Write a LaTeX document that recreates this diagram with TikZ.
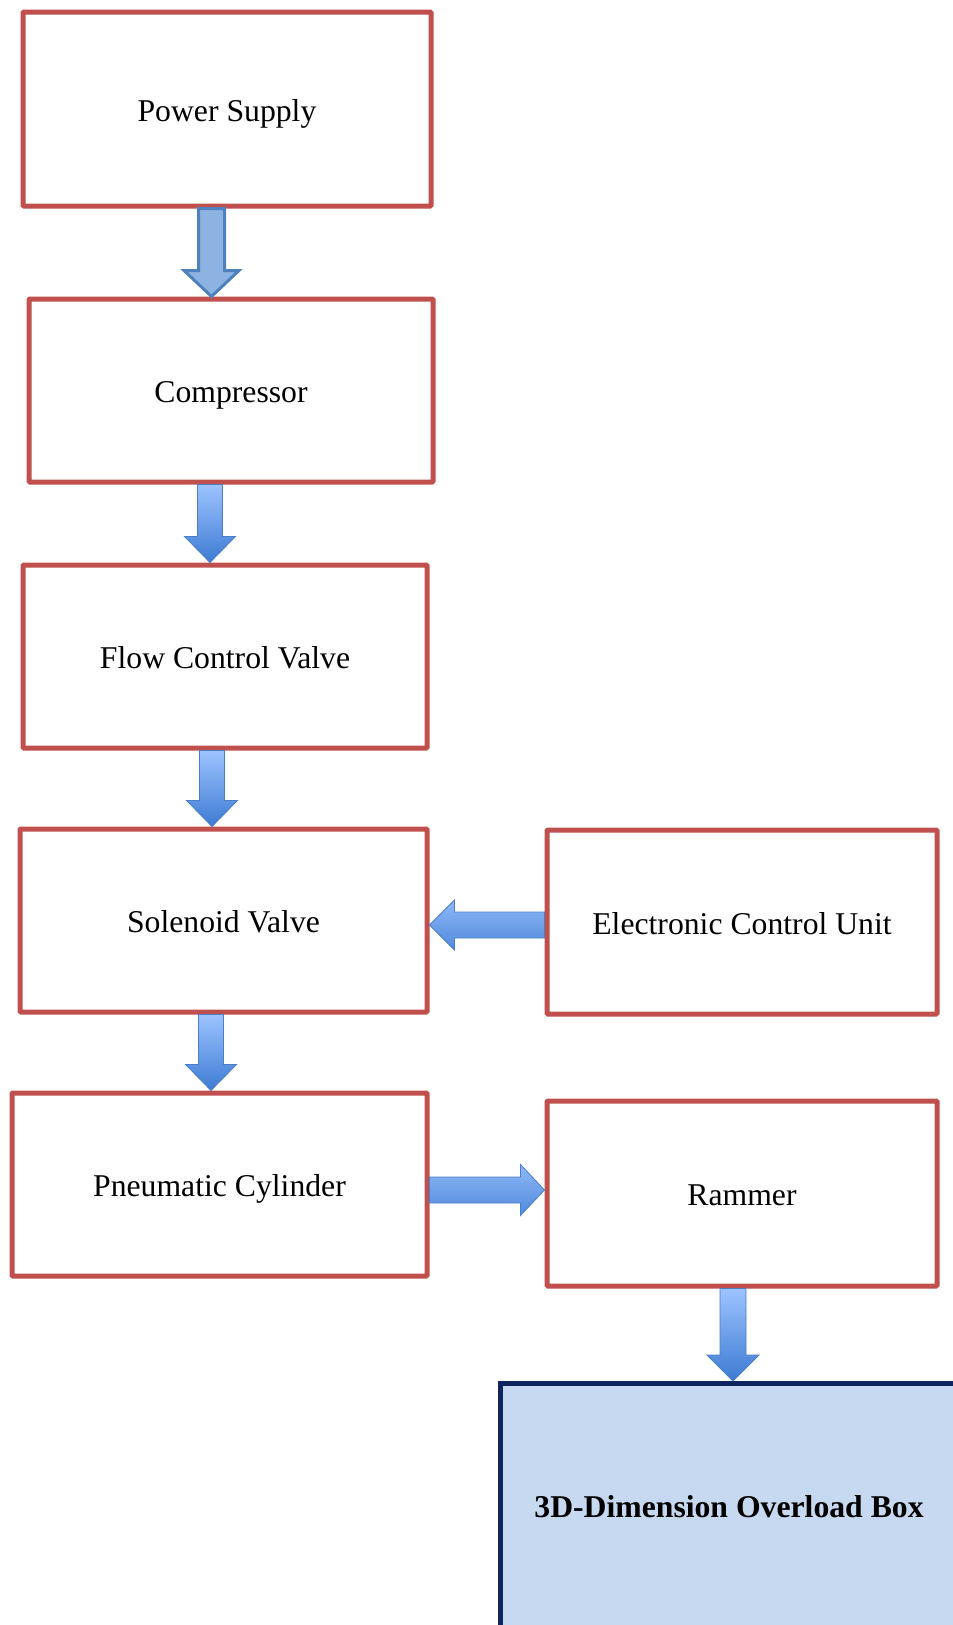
\documentclass[tikz,border=0pt]{standalone}
\usepackage{fontspec}
\setmainfont{Liberation Serif}
\usetikzlibrary{calc}
\definecolor{boxred}{HTML}{C0504D}
\definecolor{navy}{HTML}{0F2460}
\definecolor{lightfill}{HTML}{C6D9F1}
\definecolor{arrlight}{HTML}{9DC3FF}
\definecolor{arrdark}{HTML}{3D7BD2}
\definecolor{arredge}{HTML}{4A7EC6}
\definecolor{flatfill}{HTML}{8DB3E2}
\definecolor{flatedge}{HTML}{4F81BD}
\newcommand\varr[5]{%
  \path[#1] let \p1=(#2), \p2=(#3) in
    (\x1-#4,\y1) -- (\x1+#4,\y1) -- (\x1+#4,\y2+26) -- (\x1+#5,\y2+26) -- (\x1,\y2)
    -- (\x1-#5,\y2+26) -- (\x1-#4,\y2+26) -- cycle;}
\newcommand\harr[6]{%
  \path[#1] let \p1=(#2), \p2=(#3), \n1={#6} in
    (\x1,\y1-#4) -- (\x1,\y1+#4) -- ({\x2+\n1},\y1+#4) -- ({\x2+\n1},\y1+#5) -- (\x2,\y1)
    -- ({\x2+\n1},\y1-#5) -- ({\x2+\n1},\y1-#4) -- cycle;}
\begin{document}
\begin{tikzpicture}[x=1pt,y=-1pt,
  redbox/.style={draw=boxred, line width=5pt, rounded corners=1pt, fill=white,
    inner sep=0pt, text height=24pt, text depth=0pt, font=\fontsize{31.7}{38}\selectfont},
  bigbox/.style={draw=navy, line width=5pt, fill=lightfill, inner sep=0pt,
    text height=20pt, text depth=0pt, font=\fontsize{31.7}{38}\selectfont\bfseries},
  gradarrow/.style={top color=arrlight, bottom color=arrdark, draw=arredge, line width=0.8pt, line join=miter},
  hgradarrow/.style={top color=arrlight!85!arrdark, bottom color=arrdark!80!arrlight, draw=arredge, line width=0.8pt, line join=miter},
  flatarrow/.style={fill=flatfill, draw=flatedge, line width=3pt, line join=miter}]
\useasboundingbox (0,0) rectangle (953,1625);
\clip (0,0) rectangle (953,1625);
\node[redbox, minimum width=408pt, minimum height=194pt] (ps) at (227,109) {Power Supply};
\node[redbox, minimum width=404pt, minimum height=183pt] (comp) at (231,390.5) {Compressor};
\node[redbox, minimum width=404pt, minimum height=183pt] (flow) at (225,656.5) {Flow Control Valve};
\node[redbox, minimum width=407pt, minimum height=183pt] (sol) at (223.5,920.5) {Solenoid Valve};
\node[redbox, minimum width=390pt, minimum height=184pt] (ecu) at (742,922) {Electronic Control Unit};
\node[redbox, minimum width=415pt, minimum height=183pt] (pneu) at (219.5,1184.5) {Pneumatic Cylinder};
\node[redbox, minimum width=390pt, minimum height=185pt] (ram) at (742,1193.5) {Rammer};
\node[bigbox, minimum width=457pt, minimum height=247pt] (box) at (729,1507) {3D-Dimension Overload Box};
\coordinate (yecu) at (0,925);
\coordinate (ypn) at (0,1190);
\varr{flatarrow}{211.5,0 |- ps.south}{211.5,0 |- comp.north}{13}{27.5}
\varr{gradarrow}{210,0 |- comp.south}{210,0 |- flow.north}{12.5}{25.5}
\varr{gradarrow}{212,0 |- flow.south}{212,0 |- sol.north}{12.5}{25.5}
\varr{gradarrow}{211,0 |- sol.south}{211,0 |- pneu.north}{12.5}{25.5}
\varr{gradarrow}{733,0 |- ram.south}{733,0 |- box.north}{13}{26}
\harr{hgradarrow}{ecu.west |- yecu}{sol.east |- yecu}{13}{25}{25}
\harr{hgradarrow}{pneu.east |- ypn}{ram.west |- ypn}{13}{25.5}{-24}
\end{tikzpicture}
\end{document}
